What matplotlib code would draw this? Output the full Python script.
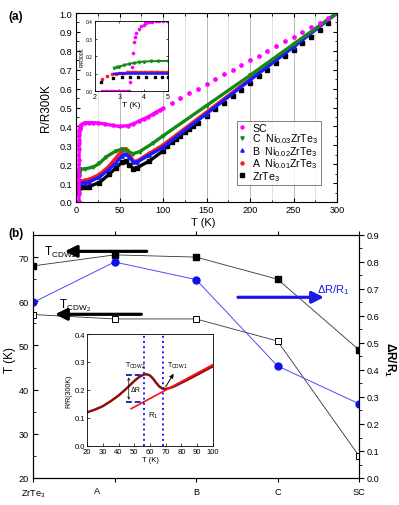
import numpy as np
import matplotlib.pyplot as plt
from matplotlib.ticker import MultipleLocator

plt.rcParams['font.family'] = ['Liberation Sans', 'DejaVu Sans']
plt.rcParams['mathtext.default'] = 'regular'
plt.rcParams['axes.linewidth'] = 0.8

# ---------------- panel (a): R/R300K vs T ----------------
# low temperature part (2-5 K), also shown in the inset
sc_lo_T = [2.3, 2.4, 2.5, 2.6, 2.7, 2.8, 2.9, 3.0, 3.1, 3.2, 3.3, 3.4, 3.45, 3.5,
           3.55, 3.6, 3.65, 3.7, 3.8, 3.9, 4.0, 4.1, 4.2, 4.35, 4.5, 4.65, 4.8, 4.95]
sc_lo_R = [0, 0, 0, 0, 0, 0, 0, 0, 0, 0, 0, 0, 0.05, 0.14,
           0.22, 0.28, 0.31, 0.33, 0.355, 0.37, 0.38, 0.388, 0.393, 0.397, 0.399, 0.4, 0.4, 0.4]
c_lo_T = [2.8, 2.9, 3.0, 3.2, 3.4, 3.6, 3.8, 4.0, 4.3, 4.6, 5.0]
c_lo_R = [0.13, 0.135, 0.14, 0.148, 0.155, 0.16, 0.165, 0.168, 0.17, 0.171, 0.172]
b_lo_T = [2.8, 3.0, 3.5, 4.0, 4.5, 5.0]
b_lo_R = [0.098, 0.1, 0.1, 0.1, 0.1, 0.1]
a_lo_T = [2.3, 2.5, 2.7, 2.85, 3.0, 3.1, 3.2, 3.3, 3.4, 3.5, 3.6, 3.7, 3.8, 3.9,
          4.0, 4.1, 4.2, 4.3, 4.4, 4.5, 4.6, 4.7, 4.8, 4.9, 5.0]
a_lo_R = [0.07, 0.085, 0.095, 0.1, 0.103, 0.104, 0.105, 0.106, 0.106, 0.107, 0.108, 0.108,
          0.109, 0.109, 0.11, 0.11, 0.11, 0.11, 0.11, 0.11, 0.11, 0.11, 0.11, 0.11, 0.11]
z_lo_T = [2.25, 2.75, 3.1, 3.45, 3.75, 4.1, 4.45, 4.75, 5.0]
z_lo_R = [0.05, 0.075, 0.078, 0.08, 0.08, 0.08, 0.08, 0.08, 0.08]

# rest of the curves
sc_T = [6, 10, 15, 20, 25, 33, 42, 50, 60, 66, 72, 78, 83, 88, 92, 96, 100]
sc_R = [0.41, 0.42, 0.42, 0.42, 0.418, 0.413, 0.405, 0.40, 0.404, 0.414, 0.427, 0.44,
        0.451, 0.463, 0.475, 0.485, 0.495]
sc_hi_T = [110, 120, 130, 140, 150, 160, 170, 180, 190, 200, 210, 220, 230, 240, 250,
           260, 270, 280, 290, 300]
sc_hi_R = [0.525, 0.55, 0.575, 0.60, 0.625, 0.65, 0.675, 0.70, 0.725, 0.75, 0.775, 0.80,
           0.825, 0.85, 0.875, 0.90, 0.925, 0.948, 0.972, 1.0]
c_T = [10, 20, 27, 35, 46, 53, 59, 65, 73, 88, 100, 150, 200, 250, 300]
c_R = [0.175, 0.185, 0.205, 0.24, 0.27, 0.28, 0.272, 0.255, 0.266, 0.31, 0.35, 0.51,
       0.67, 0.835, 1.0]
b_T = [10, 15, 27, 38, 46, 53, 57, 61, 66, 70, 84, 100, 150, 200, 250, 300]
b_R = [0.103, 0.106, 0.132, 0.173, 0.208, 0.245, 0.254, 0.238, 0.211, 0.211, 0.248,
       0.29, 0.467, 0.645, 0.82, 1.0]
a_T = [10, 15, 27, 38, 46, 53, 57, 61, 66, 70, 84, 100, 150, 200, 250, 300]
a_R = [0.115, 0.12, 0.146, 0.19, 0.235, 0.27, 0.282, 0.257, 0.216, 0.217, 0.257,
       0.302, 0.476, 0.65, 0.825, 1.0]
z_T = [10, 15, 27, 38, 46, 53, 57, 61, 66, 70, 84, 100]
z_R = [0.08, 0.082, 0.103, 0.146, 0.181, 0.21, 0.216, 0.198, 0.177, 0.181, 0.216, 0.27]
z_hi_T = [105, 110, 115, 120, 125, 130, 135, 140, 150, 160, 170, 180, 190, 200, 210,
          220, 230, 240, 250, 260, 270, 280, 290]
z_hi_R = [0.298, 0.315, 0.333, 0.35, 0.368, 0.385, 0.403, 0.42, 0.455, 0.49, 0.525,
          0.56, 0.595, 0.63, 0.665, 0.7, 0.735, 0.77, 0.805, 0.84, 0.875, 0.91, 0.945]

# ---------------- panel (b): CDW temperatures and dR/R1 ----------------
samples = ['ZrTe$_3$', 'A', 'B', 'C', 'SC']
t_cdw1 = [68, 70.5, 70, 65, 49]
t_cdw2 = [57, 56, 56, 51, 25]
dr_r1 = [0.65, 0.80, 0.735, 0.415, 0.275]

# inset of (b): ZrTe3 curve and the linear background
ins_T = [20, 25, 30, 35, 40, 45, 50, 53, 56, 58, 60, 62, 64, 66, 68, 70, 72, 75, 80, 85,
         90, 95, 100]
ins_R = [0.12, 0.13, 0.142, 0.16, 0.18, 0.205, 0.232, 0.246, 0.255, 0.256, 0.252, 0.24,
         0.225, 0.212, 0.205, 0.204, 0.206, 0.212, 0.226, 0.24, 0.255, 0.27, 0.285]
fit_T = [48, 100]
fit_R = [0.133, 0.291]

W, H = 399, 506
fig = plt.figure(figsize=(W / 100, H / 100), dpi=100)


def px_axes(l, t, r, b):
    return fig.add_axes([l / W, 1 - b / H, (r - l) / W, (b - t) / H])


MAG, GRN, BLU, RED = '#ff00ff', '#138a13', '#1a1aff', '#ff1a1a'
TICK = 6.6

# ---- (a) main
axa = px_axes(76, 14, 337, 203)
for x in range(25, 300, 25):
    axa.axvline(x, color='#b8b8b8' if x % 50 == 0 else '#e2e2e2', lw=0.7, zorder=0)
axa.plot(z_lo_T + z_T, z_lo_R + z_R, '-s', color='k', lw=2.4, ms=2.2, label='ZrTe$_3$')
axa.plot(z_hi_T, z_hi_R, 's', color='k', ms=2.2, ls='none')
axa.plot(a_lo_T + a_T, a_lo_R + a_R, '-o', color=RED, lw=2.4, ms=2.2,
         label='A  Ni$_{0.01}$ZrTe$_3$')
axa.plot(b_lo_T + b_T, b_lo_R + b_R, '-^', color=BLU, lw=2.4, ms=2.4,
         label='B  Ni$_{0.02}$ZrTe$_3$')
axa.plot(c_lo_T + c_T, c_lo_R + c_R, '-v', color=GRN, lw=2.4, ms=2.4,
         label='C  Ni$_{0.03}$ZrTe$_3$')
axa.plot(sc_lo_T + sc_T, sc_lo_R + sc_R, '-o', color=MAG, lw=2.4, ms=2.2, label='SC')
axa.plot(sc_hi_T, sc_hi_R, 'o', color=MAG, ms=2.4, ls='none')
axa.set_xlim(0, 300)
axa.set_ylim(0, 1.0)
axa.xaxis.set_major_locator(MultipleLocator(50))
axa.xaxis.set_minor_locator(MultipleLocator(25))
axa.yaxis.set_major_locator(MultipleLocator(0.1))
axa.yaxis.set_minor_locator(MultipleLocator(0.05))
axa.yaxis.set_major_formatter(lambda v, p: f'{v:.1f}')
axa.tick_params(which='both', direction='in', top=True, right=True, labelsize=TICK, pad=2.5)
axa.tick_params(which='major', length=3)
axa.tick_params(which='minor', length=1.8)
handles, labels = axa.get_legend_handles_labels()
order = [4, 3, 2, 1, 0]
leg = axa.legend([handles[i] for i in order], [labels[i] for i in order],
                 loc='upper left', bbox_to_anchor=(0.615, 0.43), fontsize=7.6,
                 frameon=True, fancybox=False, handlelength=0.7, handletextpad=0.6,
                 borderpad=0.2, labelspacing=-0.12, markerscale=1.0, borderaxespad=0)
leg.get_frame().set_edgecolor('#444444')
leg.get_frame().set_linewidth(0.6)
for ln in leg.get_lines():
    ln.set_linestyle('none')
fig.text(46 / W, 1 - 108 / H, 'R/R300K', rotation=90, ha='center', va='center', fontsize=8.5)
fig.text(203 / W, 1 - 223 / H, 'T (K)', ha='center', va='center', fontsize=8)
fig.text(16 / W, 1 - 17 / H, '(a)', ha='center', va='center', fontsize=8.5, weight='bold')

# ---- (a) inset
axi = px_axes(95, 22, 168, 92)
axi.plot(sc_lo_T, sc_lo_R, 'o', color=MAG, ms=1.6, ls='none')
axi.plot(c_lo_T, c_lo_R, '-v', color=GRN, lw=1.4, ms=1.8)
axi.plot(a_lo_T, a_lo_R, 'o', color=RED, ms=1.6, ls='none')
axi.plot(b_lo_T, b_lo_R, '-', color=BLU, lw=1.8)
axi.plot(z_lo_T, z_lo_R, 's', color='k', ms=1.5, ls='none')
axi.set_xlim(2, 5)
axi.set_ylim(0, 0.4)
axi.xaxis.set_major_locator(MultipleLocator(1))
axi.yaxis.set_major_locator(MultipleLocator(0.1))
axi.yaxis.set_major_formatter(lambda v, p: f'{v:.1f}')
axi.tick_params(direction='in', length=1.5, width=0.5, top=True, right=True, pad=1.5)
axi.tick_params(axis='y', labelsize=3.5)
axi.tick_params(axis='x', labelsize=5)
axi.set_ylabel('R/R300K', fontsize=3.5, labelpad=1)
axi.set_xlabel('T (K)', fontsize=6, labelpad=0.5)
for s in axi.spines.values():
    s.set_linewidth(0.6)

# ---- (b) main
axb = px_axes(33, 236, 359, 479)
axr = axb.twinx()
x = np.arange(len(samples))
axb.plot(x, t_cdw1, '-s', color='#333333', mfc='k', mec='k', lw=0.6, ms=4.5, zorder=3)
axb.plot(x, t_cdw2, '-s', color='#333333', mfc='white', mec='k', mew=0.7, lw=0.6, ms=4.5,
         zorder=3)
axr.plot(x, dr_r1, '-o', color='#4b4bff', mfc='#1010ee', mec='#1010ee', lw=0.7, ms=5)
axb.set_xlim(0, 4)
axb.set_ylim(20, 75)
axr.set_ylim(0, 0.9)
axb.set_xticks(x)
axb.set_xticklabels(['ZrTe$_3$', '', 'B', 'C', 'SC'])
axb.annotate('A', xy=(0.78, 0), xycoords=axb.get_xaxis_transform(), xytext=(0, -6.0),
             textcoords='offset points', ha='center', va='top', fontsize=TICK)
axb.yaxis.set_major_locator(MultipleLocator(10))
axb.yaxis.set_minor_locator(MultipleLocator(5))
axr.yaxis.set_major_locator(MultipleLocator(0.1))
axr.yaxis.set_minor_locator(MultipleLocator(0.05))
axr.yaxis.set_major_formatter(lambda v, p: f'{v:.1f}')
axb.tick_params(axis='x', direction='out', length=3, labelsize=TICK, top=True)
axb.tick_params(axis='y', which='both', direction='in', labelsize=TICK, pad=3)
axb.tick_params(axis='y', which='minor', length=1.8)
axr.tick_params(axis='y', which='both', direction='out', labelsize=TICK, pad=2)
axr.tick_params(axis='y', which='minor', length=1.8)

arrow_k = dict(arrowstyle='-|>,head_length=0.7,head_width=0.35', color='k', lw=2.3,
               mutation_scale=10, shrinkA=0, shrinkB=0)
axb.annotate('', xy=(0.39, 71.3), xytext=(1.395, 71.3), arrowprops=arrow_k)
axb.annotate('', xy=(0.27, 57.05), xytext=(1.33, 57.05), arrowprops=arrow_k)
arrow_b = dict(arrow_k, color='#1a1ae6')
axb.annotate('', xy=(3.57, 60.9), xytext=(2.515, 60.9), arrowprops=arrow_b)
axb.text(0.135, 70.4, 'T$_{CDW1}$', fontsize=8.5, va='baseline', ha='left')
axb.text(0.32, 58.7, 'T$_{CDW_2}$', fontsize=8.5, va='baseline', ha='left')
axb.text(3.49, 62.1, 'ΔR/R$_1$', fontsize=8, color='#1a1ae6', va='baseline', ha='left')

fig.text(10 / W, 1 - 360 / H, 'T (K)', rotation=90, ha='center', va='center', fontsize=8.5)
fig.text(390 / W, 1 - 360 / H, 'ΔR/R$_1$', rotation=270, ha='center', va='center',
         fontsize=8.5, weight='bold')
fig.text(16 / W, 1 - 234 / H, '(b)', ha='center', va='center', fontsize=8.5, weight='bold')

# ---- (b) inset
axj = px_axes(87, 335, 213, 447)
axj.plot(ins_T, ins_R, '-', color='#8b1010', lw=1.8)
axj.plot(fit_T, fit_R, '-', color='#ff1010', lw=1.2)
axj.axvline(56, color='#1a1aff', ls=':', lw=1.4)
axj.axvline(68.5, color='#1a1aff', ls=':', lw=1.4)
axj.plot([44.5, 56], [0.255, 0.255], '--', color='#1a2fb0', lw=1.4, dashes=(3, 1.5))
axj.plot([44.5, 56], [0.157, 0.157], '--', color='#1a2fb0', lw=1.4, dashes=(3, 1.5))
axj.annotate('', xy=(46.5, 0.245), xytext=(46.5, 0.165),
             arrowprops=dict(arrowstyle='<->', lw=0.5, color='k', mutation_scale=4,
                             shrinkA=0, shrinkB=0))
axj.annotate('', xy=(75, 0.258), xytext=(70, 0.212),
             arrowprops=dict(arrowstyle='-|>', lw=0.7, color='k', mutation_scale=6,
                             shrinkA=0, shrinkB=0))
axj.text(47.5, 0.2, 'ΔR', fontsize=5, va='center', ha='left')
axj.text(58.5, 0.112, 'R$_1$', fontsize=5.5, va='center', ha='left')
axj.text(44, 0.27, 'T$_{CDW2}$', fontsize=5, va='bottom', ha='left')
axj.text(71, 0.27, 'T$_{CDW1}$', fontsize=5, va='bottom', ha='left')
axj.set_xlim(20, 100)
axj.set_ylim(0, 0.4)
axj.xaxis.set_major_locator(MultipleLocator(10))
axj.yaxis.set_major_locator(MultipleLocator(0.1))
axj.yaxis.set_major_formatter(lambda v, p: f'{v:.1f}')
axj.tick_params(direction='in', length=2, width=0.5, labelsize=5.5, pad=1.5)
axj.set_xlabel('T (K)', fontsize=5.5, labelpad=1)
axj.set_ylabel('R/R(300K)', fontsize=5, labelpad=1.5)
for s in axj.spines.values():
    s.set_linewidth(0.6)

fig.savefig('out.png', dpi=100)
